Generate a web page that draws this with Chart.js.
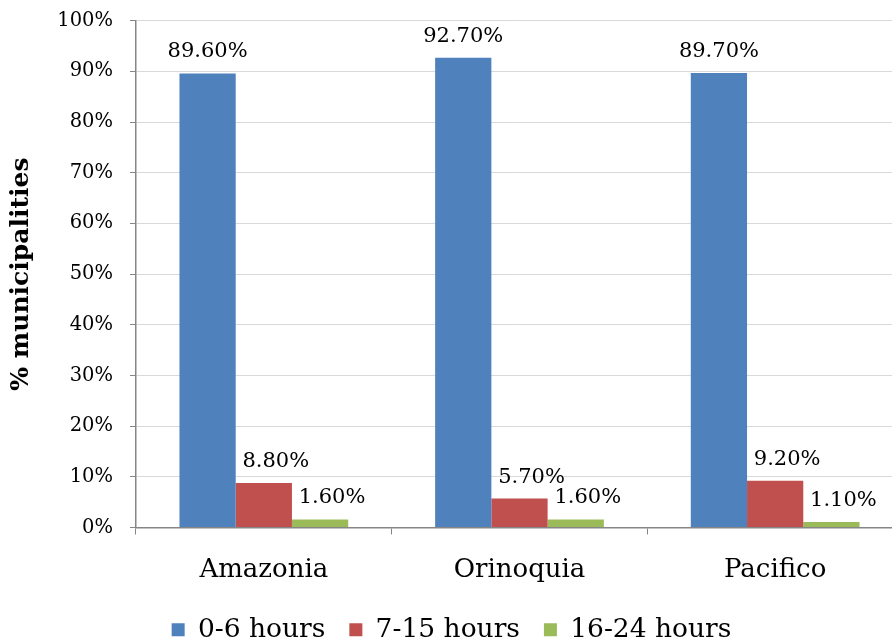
<!DOCTYPE html>
<html>
<head>
<meta charset="utf-8">
<title>Municipalities by hours</title>
<script src="https://cdn.jsdelivr.net/npm/chart.js@4.4.1/dist/chart.umd.min.js"></script>
<style>
  html, body { margin: 0; padding: 0; background: #ffffff; overflow: hidden; }
  #wrap { width: 903px; height: 661px; position: relative; margin-top: -8px; }
</style>
</head>
<body>
<div id="wrap"><canvas id="chart"></canvas></div>
<script>
// Regions on the x axis
const regions = ['Amazonia', 'Orinoquia', 'Pacifico'];

// Share of municipalities (%) in each hours band
const hours0to6 = [89.6, 92.7, 89.7];
const hours7to15 = [8.8, 5.7, 9.2];
const hours16to24 = [1.6, 1.6, 1.1];

const seriesNames = ['0-6 hours', '7-15 hours', '16-24 hours'];
const yTicks = [0, 10, 20, 30, 40, 50, 60, 70, 80, 90, 100];

const FONT = "'DejaVu Serif', 'Liberation Serif', serif";

// Value labels above each bar
const valueLabels = {
  id: 'valueLabels',
  afterDatasetsDraw(chart) {
    const ctx = chart.ctx;
    ctx.save();
    ctx.font = '21px ' + FONT;
    ctx.fillStyle = '#000000';
    ctx.textAlign = 'center';
    ctx.textBaseline = 'alphabetic';
    chart.data.datasets.forEach((ds, di) => {
      const meta = chart.getDatasetMeta(di);
      const shift = di === 0 ? 0 : 12;
      meta.data.forEach((bar, i) => {
        ctx.fillText(ds.data[i].toFixed(2) + '%', bar.x + shift, bar.y - 16);
      });
    });
    ctx.restore();
  }
};

new Chart(document.getElementById('chart'), {
  type: 'bar',
  data: {
    labels: regions,
    datasets: [
      { label: seriesNames[0], data: hours0to6, backgroundColor: '#4F81BD' },
      { label: seriesNames[1], data: hours7to15, backgroundColor: '#C0504D' },
      { label: seriesNames[2], data: hours16to24, backgroundColor: '#9BBB59' }
    ]
  },
  options: {
    responsive: true,
    maintainAspectRatio: false,
    animation: false,
    devicePixelRatio: 1,
    layout: { padding: { top: 4, right: 0, bottom: 0, left: 0 } },
    datasets: { bar: { categoryPercentage: 0.66, barPercentage: 1.0 } },
    plugins: {
      legend: {
        position: 'bottom',
        labels: {
          boxWidth: 13,
          boxHeight: 13,
          color: '#000000',
          padding: 24,
          font: { family: FONT, size: 26.5 }
        }
      },
      tooltip: { enabled: false }
    },
    scales: {
      x: {
        grid: {
          display: true,
          drawOnChartArea: false,
          tickLength: 7,
          tickColor: '#868686',
          offset: true
        },
        border: { color: '#868686', width: 1.5 },
        ticks: {
          color: '#000000',
          padding: 20,
          font: { family: FONT, size: 26 }
        },
        afterFit(scale) { scale.height = 65; }
      },
      y: {
        min: 0,
        max: 100,
        afterBuildTicks(scale) { scale.ticks = yTicks.map(v => ({ value: v })); },
        grid: {
          color: '#D9D9D9',
          tickColor: '#868686',
          tickLength: 6
        },
        border: { color: '#868686', width: 1.5 },
        ticks: {
          color: '#000000',
          padding: 17,
          font: { family: FONT, size: 19.5 },
          callback: v => v + '%'
        },
        title: {
          display: true,
          text: '% municipalities',
          color: '#000000',
          padding: { top: 6, bottom: 0 },
          font: { family: FONT, size: 25, weight: 'bold' }
        },
        afterFit(scale) { scale.width = 136; }
      }
    }
  },
  plugins: [valueLabels]
});
</script>
</body>
</html>
